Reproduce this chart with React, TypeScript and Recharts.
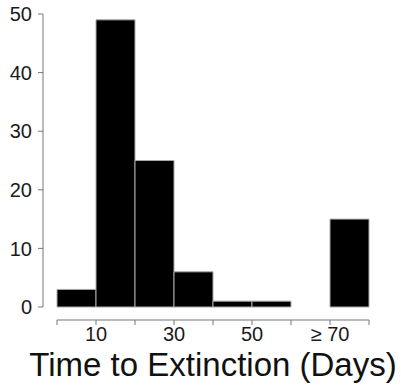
import React from 'react';
import { BarChart, Bar, XAxis, YAxis } from 'recharts';

// histogram of extinction times, 10-day bins (last bin is "70 or more")
const binCentres = [5, 15, 25, 35, 45, 55, 65, 75];
const counts = [3, 49, 25, 6, 1, 1, 0, 15];
const dayTicks = [0, 10, 20, 30, 40, 50, 60, 70, 80];
const labelledDays = [10, 30, 50, 70];
const countTicks = [0, 10, 20, 30, 40, 50];

const data = binCentres.map((mid, i) => ({ mid, count: counts[i] }));

const font = '"Liberation Sans", Arial, Helvetica, sans-serif';
const axisGrey = '#777';
const tickStyle = { fill: '#1a1a1a', fontSize: 20, fontFamily: font };

const dayLabel = (v: number) => {
  if (!labelledDays.includes(v)) return '';
  return v === 70 ? '\u2265 70' : String(v);
};

// count axis sits apart from the bars (R style), so it gets its own narrow chart
function CountAxis() {
  return (
    <BarChart
      width={58}
      height={385}
      data={data}
      margin={{ top: 14, right: 14, bottom: 78, left: 0 }}
    >
      <XAxis dataKey="mid" hide />
      <YAxis
        domain={[0, 50]}
        ticks={countTicks}
        interval={0}
        width={43}
        tickSize={5}
        tickMargin={6}
        stroke={axisGrey}
        tick={tickStyle}
      />
      <Bar dataKey="count" fill="none" stroke="none" isAnimationActive={false} />
    </BarChart>
  );
}

export default function App() {
  return (
    <div style={{ position: 'absolute', left: 0, top: 0, width: 401, height: 385, fontFamily: font }}>
      <div style={{ position: 'absolute', left: 0, top: 0 }}>
        <BarChart
          width={401}
          height={385}
          data={data}
          margin={{ top: 14, right: 32, bottom: 0, left: 57 }}
          barCategoryGap={0}
          barGap={0}
        >
          <XAxis
            dataKey="mid"
            type="number"
            domain={[0, 80]}
            ticks={dayTicks}
            interval={0}
            tickFormatter={dayLabel}
            height={65}
            tickSize={5}
            tickMargin={2}
            stroke={axisGrey}
            tick={tickStyle}
            label={{
              value: 'Time to Extinction (Days)',
              position: 'insideBottom',
              offset: 9,
              fill: '#111',
              fontSize: 33,
              fontFamily: font,
            }}
          />
          <YAxis hide domain={[0, 50]} padding={{ top: 0, bottom: 13 }} />
          <Bar
            dataKey="count"
            fill="#000"
            stroke="#aaa"
            strokeWidth={1}
            isAnimationActive={false}
          />
        </BarChart>
      </div>
      <div style={{ position: 'absolute', left: 0, top: 0 }}>
        <CountAxis />
      </div>
    </div>
  );
}
